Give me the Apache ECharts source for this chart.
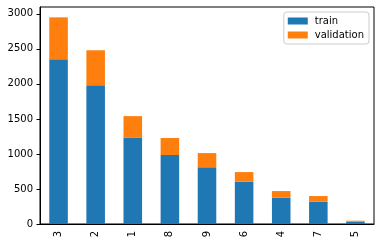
<!DOCTYPE html>
<html><head><meta charset="utf-8">
<script src="https://cdn.jsdelivr.net/npm/echarts@6/dist/echarts.min.js"></script>
<style>html,body{margin:0;padding:0;background:#fff}#c{width:381px;height:245px}</style>
</head><body><div id="c"></div>
<script>
const categories = ['3','2','1','8','9','6','4','7','5'];
const train = [2350, 1980, 1230, 985, 810, 603, 375, 318, 33];
const validation = [600, 500, 310, 243, 202, 138, 95, 81, 14];
const yTicks = [0, 500, 1000, 1500, 2000, 2500, 3000];
const font = 'DejaVu Sans';
const chart = echarts.init(document.getElementById('c'), null, {renderer: 'canvas'});
chart.setOption({
  animation: false,
  textStyle: {fontFamily: font},
  grid: {left: 40, right: 7, top: 7, bottom: 21, show: true, borderColor: '#000', borderWidth: 1, backgroundColor: 'transparent'},
  legend: {
    right: 12, top: 12, orient: 'vertical',
    itemWidth: 20, itemHeight: 7, itemGap: 4,
    padding: [4, 5, 4, 4],
    borderColor: '#cccccc', borderWidth: 1, borderRadius: 3,
    backgroundColor: 'rgba(255,255,255,0.8)',
    textStyle: {fontFamily: font, fontSize: 10, color: '#000', padding: [0,0,0,2]},
    icon: 'rect',
    data: ['train', 'validation']
  },
  xAxis: {
    type: 'category', data: categories,
    axisLine: {lineStyle: {color: '#000', width: 1}},
    axisTick: {alignWithLabel: true, length: 3.5, lineStyle: {color: '#000'}},
    axisLabel: {rotate: 90, margin: 7, fontFamily: font, fontSize: 10, color: '#000'}
  },
  yAxis: {
    type: 'value', min: 0, max: 3097.5,
    splitLine: {show: false},
    axisLine: {show: true, lineStyle: {color: '#000', width: 1}},
    axisTick: {show: true, length: 3.5, lineStyle: {color: '#000'}, customValues: yTicks},
    axisLabel: {margin: 7, fontFamily: font, fontSize: 10, color: '#000', customValues: yTicks, formatter: v => String(v)}
  },
  series: [
    {name: 'train', type: 'bar', stack: 's', data: train, barWidth: '50%', itemStyle: {color: '#1f77b4'}},
    {name: 'validation', type: 'bar', stack: 's', data: validation, barWidth: '50%', itemStyle: {color: '#ff7f0e'}}
  ]
});
</script></body></html>
